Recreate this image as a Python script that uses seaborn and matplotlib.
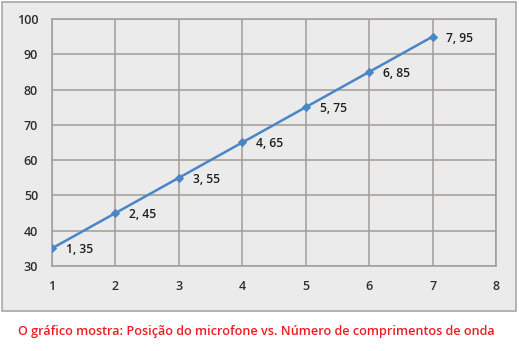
import matplotlib
matplotlib.use("Agg")
import matplotlib.pyplot as plt
import seaborn as sns
import pandas as pd
from matplotlib.patches import Rectangle

# data
posicao = [1, 2, 3, 4, 5, 6, 7]
comprimentos = [35, 45, 55, 65, 75, 85, 95]
rotulos = ['1, 35', '2, 45', '3, 55', '4, 65', '5, 75', '6, 85', '7, 95']
xticks = [1, 2, 3, 4, 5, 6, 7, 8]
yticks = [30, 40, 50, 60, 70, 80, 90, 100]
legenda = 'O gráfico mostra: Posição do microfone vs. Número de comprimentos de onda'

df = pd.DataFrame({'x': posicao, 'y': comprimentos})

sns.set_style('white')
plt.rcParams['font.family'] = ['Open Sans', 'DejaVu Sans']

fig = plt.figure(figsize=(5.19, 3.51), dpi=100)
fig.patch.set_facecolor('white')

# outer chart frame
W, H = 519, 351
fig.patches.append(Rectangle((2 / W, 40 / H), 514 / W, 309 / H, transform=fig.transFigure,
                             facecolor='#ebebeb', edgecolor='#a8a8a8', lw=1.2, zorder=-5))

ax = fig.add_axes([52 / W, 1 - 266 / H, 444 / W, 247 / H])
ax.set_zorder(2)
ax.set_facecolor('#ebebeb')

sns.lineplot(data=df, x='x', y='y', ax=ax, color='#4a86c6', lw=1.8,
             marker='D', markersize=4, markeredgecolor='#4a86c6', zorder=3)

for xv, yv, txt in zip(posicao, comprimentos, rotulos):
    ax.annotate(txt, (xv, yv), xytext=(10, -1), textcoords='offset points',
                ha='left', va='center', fontsize=8.7, color='#1e1e1e', fontweight='semibold')

ax.set_xlim(1, 8)
ax.set_ylim(30, 100)
ax.set_xticks(xticks)
ax.set_yticks(yticks)
ax.grid(True, color='#a39c96', lw=1.1)
for s in ax.spines.values():
    s.set_color('#a39c96')
    s.set_linewidth(1.1)
ax.tick_params(axis='both', length=4, width=1.1, color='#a39c96', labelsize=9,
               labelcolor='#2e2e2e', pad=6)
for lab in ax.get_xticklabels() + ax.get_yticklabels():
    lab.set_fontweight('semibold')
ax.set_xlabel('')
ax.set_ylabel('')

fig.text(256 / W, 1 - 332 / H, legenda, ha='center', va='center', color='#ee1c25',
         fontsize=9.1, fontweight='semibold')

fig.savefig('out.png', dpi=100)
